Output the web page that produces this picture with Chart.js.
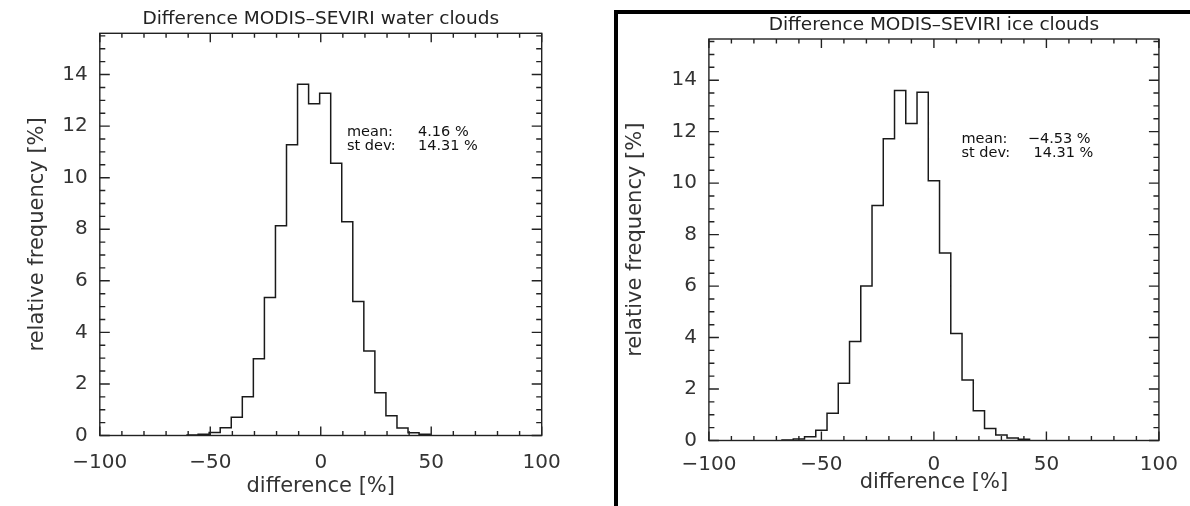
<!DOCTYPE html>
<html>
<head>
<meta charset="utf-8">
<script src="https://cdn.jsdelivr.net/npm/chart.js@4.4.1/dist/chart.umd.min.js"></script>
<style>
html, body { margin: 0; padding: 0; background: #fff; }
body { width: 1190px; height: 506px; position: relative; overflow: hidden; }
.panel { position: absolute; top: 0; width: 595px; height: 506px; }
#frame { position: absolute; left: 614px; top: 10px; width: 600px; height: 600px;
         border-left: 4px solid #000; border-top: 4px solid #000;
         box-sizing: border-box; pointer-events: none; }
</style>
</head>
<body>
<div class="panel" style="left:0"><canvas id="water"></canvas></div>
<div class="panel" style="left:595px"><canvas id="ice"></canvas></div>
<div id="frame"></div>
<script>
// histogram bins (left edge of each 5% bin) and relative frequency [%]
const waterBinLeft = [-60.5, -55.5, -50.5, -45.5, -40.5, -35.5, -30.5, -25.5, -20.5, -15.5, -10.5,
                      -5.5, -0.5, 4.5, 9.5, 14.5, 19.5, 24.5, 29.5, 34.5, 39.5, 44.5];
const waterFreq = [0.02, 0.05, 0.12, 0.30, 0.71, 1.50, 2.98, 5.35, 8.14, 11.28, 13.62,
                   12.87, 13.27, 10.56, 8.29, 5.20, 3.28, 1.66, 0.77, 0.29, 0.11, 0.05];

const iceBinLeft = [-67.5, -62.5, -57.5, -52.5, -47.5, -42.5, -37.5, -32.5, -27.5, -22.5, -17.5,
                    -12.5, -7.5, -2.5, 2.5, 7.5, 12.5, 17.5, 22.5, 27.5, 32.5, 37.5];
const iceFreq = [0.02, 0.06, 0.15, 0.40, 1.06, 2.22, 3.85, 6.00, 9.13, 11.72, 13.60,
                 12.32, 13.53, 10.09, 7.29, 4.16, 2.35, 1.16, 0.47, 0.21, 0.10, 0.05];

const xTicks = [-100, -50, 0, 50, 100];
const xTickLabels = ['\u2212100', '\u221250', '0', '50', '100'];
const yTicks = [0, 2, 4, 6, 8, 10, 12, 14];
const yTickLabels = ['0', '2', '4', '6', '8', '10', '12', '14'];

const waterStats = [['mean:', '4.16 %'], ['st dev:', '14.31 %']];
const iceStats = [['mean:', '\u22124.53 %'], ['st dev:', '14.31 %']];

Chart.defaults.font.family = "'DejaVu Sans', sans-serif";
Chart.defaults.color = '#222';

const histPoints = (left, freq) => {
    const pts = [{ x: left[0], y: 0 }];
    left.forEach((e, i) => pts.push({ x: e, y: freq[i] }));
    pts.push({ x: left[left.length - 1] + (left[1] - left[0]), y: 0 });
    return pts;
};

// IDL style frame: box with inward major/minor ticks, the title and the stats text
const frameTicks = {
    id: 'frameTicks',
    afterDatasetsDraw(chart, args, opts) {
        const { ctx, chartArea: a, scales: { x, y } } = chart;
        ctx.save();
        ctx.strokeStyle = '#222';
        ctx.lineWidth = 1.4;
        ctx.strokeRect(a.left, a.top, a.right - a.left, a.bottom - a.top);
        ctx.beginPath();
        for (let v = -100; v <= 100; v += 10) {
            const px = x.getPixelForValue(v);
            const len = v % 50 === 0 ? 9 : 4.5;
            ctx.moveTo(px, a.bottom); ctx.lineTo(px, a.bottom - len);
            ctx.moveTo(px, a.top); ctx.lineTo(px, a.top + len);
        }
        for (let v = 0; v <= 15.5; v += 0.5) {
            const py = y.getPixelForValue(v);
            const len = v % 2 === 0 ? 10 : 5.5;
            ctx.moveTo(a.left, py); ctx.lineTo(a.left + len, py);
            ctx.moveTo(a.right, py); ctx.lineTo(a.right - len, py);
        }
        ctx.stroke();

        // title centred over the plot box
        ctx.fillStyle = '#222';
        ctx.font = "18.5px 'DejaVu Sans'";
        ctx.textAlign = 'center';
        ctx.textBaseline = 'middle';
        ctx.fillText(opts.title, (a.left + a.right) / 2, opts.titleY);

        ctx.fillStyle = '#111';
        ctx.font = "14.5px 'DejaVu Sans'";
        ctx.textAlign = 'left';
        ctx.textBaseline = 'alphabetic';
        opts.lines.forEach((ln, i) => {
            ctx.fillText(ln[0], opts.labelX, opts.baseY + i * 13.5);
            ctx.fillText(ln[1], opts.valueX[i], opts.baseY + i * 13.5);
        });
        ctx.restore();
    }
};

const makePanel = (id, left, freq, p) => new Chart(document.getElementById(id), {
    type: 'line',
    data: {
        datasets: [{
            data: histPoints(left, freq),
            stepped: 'before',
            borderColor: '#1a1a1a',
            borderWidth: 1.5,
            pointRadius: 0,
            fill: false
        }]
    },
    options: {
        responsive: true,
        maintainAspectRatio: false,
        animation: false,
        layout: { padding: { left: 0, right: p.padRight, top: p.padTop, bottom: 0 } },
        plugins: {
            legend: { display: false },
            tooltip: { enabled: false },
            title: { display: false },
            frameTicks: p.deco
        },
        scales: {
            x: {
                type: 'linear',
                min: -100,
                max: 100,
                afterBuildTicks: ax => { ax.ticks = xTicks.map(v => ({ value: v })); },
                afterFit: ax => { ax.height = p.xHeight; },
                grid: { display: false, drawTicks: false },
                border: { display: false },
                ticks: {
                    padding: p.xTickPad,
                    maxRotation: 0,
                    font: { size: 20 },
                    color: '#333',
                    callback: v => xTickLabels[xTicks.indexOf(v)]
                },
                title: {
                    display: true,
                    text: 'difference [%]',
                    color: '#333',
                    font: { size: 21 },
                    padding: { top: 0, bottom: p.xTitlePad }
                }
            },
            y: {
                type: 'linear',
                min: 0,
                max: 15.6,
                afterBuildTicks: ax => { ax.ticks = yTicks.map(v => ({ value: v })); },
                afterFit: ax => { ax.width = p.yWidth; },
                grid: { display: false, drawTicks: false },
                border: { display: false },
                ticks: {
                    padding: 12,
                    font: { size: 20 },
                    color: '#333',
                    callback: v => yTickLabels[yTicks.indexOf(v)]
                },
                title: {
                    display: true,
                    text: 'relative frequency [%]',
                    color: '#333',
                    font: { size: 21 },
                    padding: { top: p.yTitlePad, bottom: 0 }
                }
            }
        }
    },
    plugins: [frameTicks]
});

makePanel('water', waterBinLeft, waterFreq, {
    padRight: 53.3, padTop: 33.3, xHeight: 70.5, yWidth: 99.8,
    xTickPad: 15, xTitlePad: 7, yTitlePad: 25,
    deco: { title: 'Difference MODIS\u2013SEVIRI water clouds', titleY: 19,
            lines: waterStats, labelX: 347, valueX: [418, 418], baseY: 136 }
});

makePanel('ice', iceBinLeft, iceFreq, {
    padRight: 29.3, padTop: 39, xHeight: 65.5, yWidth: 113.9,
    xTickPad: 12, xTitlePad: 11, yTitlePad: 28,
    deco: { title: 'Difference MODIS\u2013SEVIRI ice clouds', titleY: 25,
            lines: iceStats, labelX: 366.5, valueX: [432.8, 438.5], baseY: 143 }
});
</script>
</body>
</html>
